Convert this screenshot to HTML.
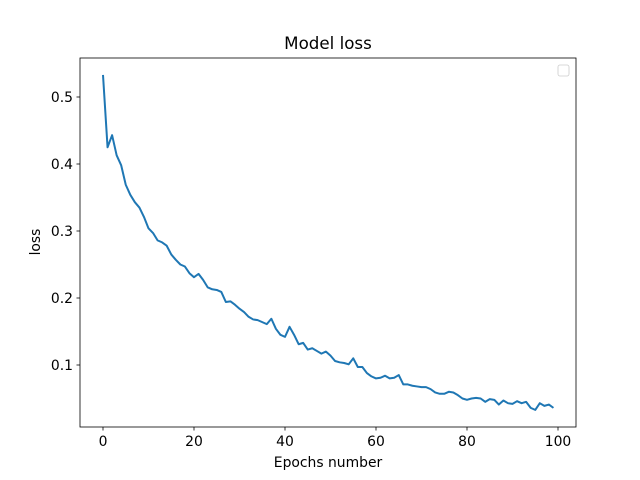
<!DOCTYPE html>
<html><head><meta charset="utf-8"><style>
body{margin:0;background:#fff}
svg{display:block;font-family:"DejaVu Sans","Liberation Sans",sans-serif}
</style></head><body>
<svg id="chart" width="640" height="480">
<rect width="640" height="480" fill="#fff"/>
<text x="328" y="49" font-size="16.7" text-anchor="middle">Model loss</text>
<g id="xticks"></g><g id="yticks"></g>
<path id="line" fill="none" stroke="#1f77b4" stroke-width="2" stroke-linejoin="round"/>
<rect x="80" y="58" width="496" height="369" fill="none" stroke="#000" stroke-width="0.8"/>
<rect x="558" y="65" width="11" height="11" rx="2" fill="#fff" stroke="#ccc" stroke-width="0.8"/>
<text x="328" y="467" font-size="13.9" text-anchor="middle">Epochs number</text>
<text x="0" y="0" font-size="13.9" text-anchor="middle" transform="translate(40,242) rotate(-90)">loss</text>
</svg>
<script>
const lossValues=[0.533,0.425,0.443,0.413,0.398,0.369,0.354,0.343,0.335,0.321,0.304,0.297,0.286,0.283,0.278,0.265,0.257,0.250,0.247,0.237,0.231,0.236,0.227,0.216,0.213,0.212,0.209,0.194,0.195,0.190,0.184,0.179,0.172,0.168,0.167,0.164,0.161,0.169,0.154,0.145,0.142,0.157,0.145,0.131,0.133,0.123,0.125,0.121,0.117,0.120,0.114,0.106,0.104,0.103,0.101,0.110,0.097,0.097,0.088,0.083,0.080,0.081,0.084,0.080,0.081,0.085,0.071,0.071,0.069,0.068,0.067,0.067,0.064,0.059,0.057,0.057,0.060,0.059,0.055,0.050,0.048,0.050,0.051,0.050,0.045,0.049,0.048,0.041,0.047,0.043,0.042,0.046,0.043,0.045,0.036,0.033,0.043,0.039,0.041,0.036];
const xTickValues=[0,20,40,60,80,100];
const yTickValues=[0.1,0.2,0.3,0.4,0.5];
const NS="http://www.w3.org/2000/svg";
function xs(v){return 103+v*4.55;}
function ys(v){return 365-(v-0.1)*670;}
let d="";
lossValues.forEach((v,i)=>{d+=(i?"L":"M")+xs(i).toFixed(2)+","+ys(v).toFixed(2);});
document.getElementById("line").setAttribute("d",d);
const xg=document.getElementById("xticks"),yg=document.getElementById("yticks");
xTickValues.forEach(t=>{
 const l=document.createElementNS(NS,"line");
 l.setAttribute("x1",xs(t));l.setAttribute("x2",xs(t));l.setAttribute("y1",427);l.setAttribute("y2",430.5);l.setAttribute("stroke","#000");l.setAttribute("stroke-width","0.8");
 
 
 xg.appendChild(l);
 const tx=document.createElementNS(NS,"text");
 tx.setAttribute("x",xs(t));tx.setAttribute("y",446);tx.setAttribute("font-size","13.9");tx.setAttribute("text-anchor","middle");tx.textContent=t;
 
 
 xg.appendChild(tx);
});
yTickValues.forEach(t=>{
 const l=document.createElementNS(NS,"line");
 l.setAttribute("x1",76.5);l.setAttribute("x2",80);l.setAttribute("y1",ys(t));l.setAttribute("y2",ys(t));l.setAttribute("stroke","#000");l.setAttribute("stroke-width","0.8");
 
 
 yg.appendChild(l);
 const tx=document.createElementNS(NS,"text");
 tx.setAttribute("x",73);tx.setAttribute("y",ys(t)+5);tx.setAttribute("font-size","13.9");tx.setAttribute("text-anchor","end");tx.textContent=t.toFixed(1);
 
 
 yg.appendChild(tx);
});
</script>
</body></html>
